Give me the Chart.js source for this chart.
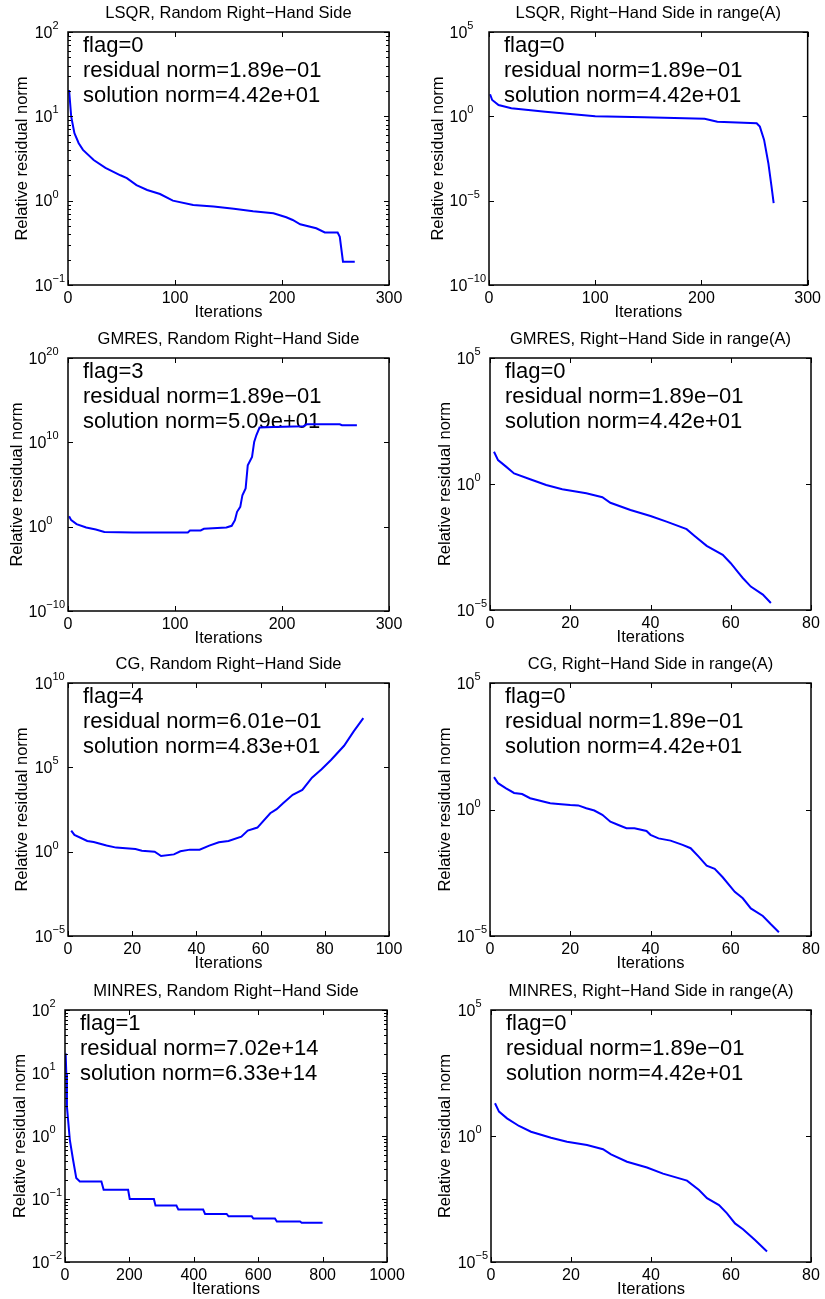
<!DOCTYPE html>
<html>
<head>
<meta charset="utf-8">
<title>Relative residual norm of iterative solvers</title>
<script src="https://cdn.jsdelivr.net/npm/chart.js@4.4.0/dist/chart.umd.min.js"></script>
<style>
  html, body { margin: 0; padding: 0; background: #fff; }
  #figure { position: relative; width: 825px; height: 1299px; overflow: hidden; }
  #figure canvas { position: absolute; }
</style>
</head>
<body>
<div id="figure"></div>
<script>
// ---- data ----

// LSQR, random right-hand side
const lsqrRandIter = [1, 3, 6, 10, 14, 24, 35, 49, 55, 64, 74, 86, 98, 117, 136, 155, 173, 192, 204, 210, 217, 232, 240, 252, 254, 257, 268];
const lsqrRandRes = [20.5, 9.9, 6.3, 4.8, 4.0, 3.03, 2.45, 2.0, 1.85, 1.53, 1.34, 1.2, 1.0, 0.89, 0.85, 0.80, 0.75, 0.71, 0.635, 0.59, 0.525, 0.47, 0.42, 0.42, 0.373, 0.189, 0.189];

// LSQR, right-hand side in range(A)
const lsqrRangeIter = [1, 3, 9, 21, 53, 100, 146, 203, 215, 252, 255, 259, 263, 266, 268];
const lsqrRangeRes = [20.4, 9.3, 4.7, 3.0, 1.9, 1.0, 0.87, 0.72, 0.48, 0.39, 0.245, 0.04, 1.66e-3, 6.8e-5, 7.1e-6];

// GMRES, random right-hand side
const gmresRandIter = [1, 3, 8, 17, 26, 34, 61, 112, 114, 124, 127, 148, 153, 156, 158, 161, 163, 166, 168, 172, 174, 176, 179, 192, 220, 223, 254, 256, 270];
const gmresRandRes = [17.4, 5.9, 2.0, 0.79, 0.47, 0.24, 0.204, 0.204, 0.355, 0.355, 0.55, 0.79, 1.26, 5.9, 57.5, 224, 5.4e3, 3.3e4, 1.9e7, 1.86e8, 1.12e10, 6.9e10, 5.6e11, 6.6e11, 7.9e11, 1.38e12, 1.38e12, 1.07e12, 1.07e12];

// GMRES, right-hand side in range(A)
const gmresRangeIter = [1, 2, 4, 6, 10, 14, 18, 24, 28, 30, 35, 40, 44, 49, 51, 54, 58, 60, 62, 63, 65, 68, 70];
const gmresRangeRes = [19.1, 8.9, 4.9, 2.63, 1.55, 0.91, 0.62, 0.43, 0.30, 0.18, 0.093, 0.054, 0.032, 0.0162, 0.0087, 0.0035, 0.00155, 7.2e-4, 2.9e-4, 1.86e-4, 8.5e-5, 4.1e-5, 1.9e-5];

// CG, random right-hand side
const cgRandIter = [1, 2, 6, 8, 12, 15, 21, 23, 27, 29, 33, 35, 38, 41, 44, 47, 50, 54, 56, 59, 63, 65, 67, 70, 73, 76, 79, 82, 86, 89, 92];
const cgRandRes = [17.8, 9.8, 4.3, 3.7, 2.3, 1.74, 1.45, 1.15, 1.0, 0.55, 0.69, 1.05, 1.32, 1.32, 2.3, 3.6, 4.3, 7.8, 17.8, 26.9, 190, 331, 741, 2340, 4570, 2.45e4, 7.8e4, 2.8e5, 1.9e6, 1.35e7, 8.3e7];

// CG, right-hand side in range(A)
const cgRangeIter = [1, 2, 4, 6, 8, 10, 15, 17, 20, 22, 24, 26, 28, 30, 32, 34, 36, 39, 40, 42, 45, 48, 50, 52, 54, 56, 58, 61, 63, 65, 68, 70, 72];
const cgRangeRes = [19.1, 11.0, 6.9, 4.5, 4.1, 2.8, 1.78, 1.66, 1.51, 1.45, 1.12, 0.91, 0.62, 0.33, 0.245, 0.182, 0.182, 0.141, 0.1, 0.072, 0.059, 0.04, 0.0295, 0.0138, 0.006, 0.0045, 0.0021, 5.6e-4, 3.1e-4, 1.23e-4, 6.2e-5, 2.9e-5, 1.41e-5];

// MINRES, random right-hand side
const minresRandIter = [2, 4, 6, 15, 25, 35, 46, 113, 120, 196, 201, 276, 281, 346, 352, 429, 435, 502, 508, 580, 585, 652, 658, 730, 735, 800];
const minresRandRes = [20.5, 10, 2.93, 0.87, 0.42, 0.215, 0.19, 0.19, 0.14, 0.14, 0.10, 0.10, 0.079, 0.079, 0.068, 0.068, 0.058, 0.058, 0.053, 0.053, 0.049, 0.049, 0.044, 0.044, 0.042, 0.042];

// MINRES, right-hand side in range(A)
const minresRangeIter = [1, 2, 4, 7, 10, 15, 19, 24, 28, 30, 34, 39, 43, 49, 52, 54, 57, 59, 61, 63, 66, 69];
const minresRangeRes = [20, 9.3, 5.0, 2.5, 1.48, 0.85, 0.59, 0.44, 0.30, 0.186, 0.095, 0.056, 0.032, 0.017, 0.0072, 0.0034, 0.0018, 8.5e-4, 3.4e-4, 2.0e-4, 7.4e-5, 2.6e-5];

// tick values
const xTicks300 = [0, 100, 200, 300];
const xTicks80 = [0, 20, 40, 60, 80];
const xTicks100 = [0, 20, 40, 60, 80, 100];
const xTicks1000 = [0, 200, 400, 600, 800, 1000];
const yTicksLsqrRand = [1e-1, 1e0, 1e1, 1e2];
const yTicksWide = [1e-10, 1e-5, 1e0, 1e5];
const yTicksGmresRand = [1e-10, 1e0, 1e10, 1e20];
const yTicksNarrow = [1e-5, 1e0, 1e5];
const yTicksCgRand = [1e-5, 1e0, 1e5, 1e10];
const yTicksMinresRand = [1e-2, 1e-1, 1e0, 1e1, 1e2];

// text
const notesLsqr = ['flag=0', 'residual norm=1.89e\u221201', 'solution norm=4.42e+01'];
const notesGmresRand = ['flag=3', 'residual norm=1.89e\u221201', 'solution norm=5.09e+01'];
const notesCgRand = ['flag=4', 'residual norm=6.01e\u221201', 'solution norm=4.83e+01'];
const notesMinresRand = ['flag=1', 'residual norm=7.02e+14', 'solution norm=6.33e+14'];

// ---- layout of the 4x2 grid (plot box in page pixels) ----
const panels = [
  { title: 'LSQR, Random Right\u2212Hand Side', iter: lsqrRandIter, res: lsqrRandRes, xTicks: xTicks300, yTicks: yTicksLsqrRand, minor: true, notes: notesLsqr,
    col: 0, box: [68, 389, 32, 285], yTitleX: 22 },
  { title: 'LSQR, Right\u2212Hand Side in range(A)', iter: lsqrRangeIter, res: lsqrRangeRes, xTicks: xTicks300, yTicks: yTicksWide, minor: false, notes: notesLsqr,
    col: 1, box: [489, 809, 32, 285], yTitleX: 26 },
  { title: 'GMRES, Random Right\u2212Hand Side', iter: gmresRandIter, res: gmresRandRes, xTicks: xTicks300, yTicks: yTicksGmresRand, minor: false, notes: notesGmresRand,
    col: 0, box: [68, 389, 358, 611], yTitleX: 17 },
  { title: 'GMRES, Right\u2212Hand Side in range(A)', iter: gmresRangeIter, res: gmresRangeRes, xTicks: xTicks80, yTicks: yTicksNarrow, minor: false, notes: notesLsqr,
    col: 1, box: [490, 811, 358, 610], yTitleX: 33 },
  { title: 'CG, Random Right\u2212Hand Side', iter: cgRandIter, res: cgRandRes, xTicks: xTicks100, yTicks: yTicksCgRand, minor: false, notes: notesCgRand,
    col: 0, box: [68, 389, 683, 936], yTitleX: 22 },
  { title: 'CG, Right\u2212Hand Side in range(A)', iter: cgRangeIter, res: cgRangeRes, xTicks: xTicks80, yTicks: yTicksNarrow, minor: false, notes: notesLsqr,
    col: 1, box: [490, 811, 683, 936], yTitleX: 33 },
  { title: 'MINRES, Random Right\u2212Hand Side', iter: minresRandIter, res: minresRandRes, xTicks: xTicks1000, yTicks: yTicksMinresRand, minor: true, notes: notesMinresRand,
    col: 0, box: [65, 387, 1010, 1262], yTitleX: 20 },
  { title: 'MINRES, Right\u2212Hand Side in range(A)', iter: minresRangeIter, res: minresRangeRes, xTicks: xTicks80, yTicks: yTicksNarrow, minor: false, notes: notesLsqr,
    col: 1, box: [491, 811, 1010, 1262], yTitleX: 33 }
];

const FONT = '"Liberation Sans", Arial, Helvetica, sans-serif';
const TITLE_H = 32;   // space above the plot box
const XAXIS_H = 40;   // space below the plot box

Chart.defaults.color = '#000';
Chart.defaults.font.family = FONT;

function expText(v) {
  const e = Math.round(Math.log10(v));
  return e < 0 ? '\u2212' + (-e) : String(e);
}

// box, inward ticks, 10^n labels and the flag text
function framePlugin(p) {
  return {
    id: 'frame',
    beforeDatasetsDraw(chart) {
      const { ctx, chartArea: a } = chart;
      ctx.save();
      ctx.fillStyle = '#000';
      ctx.font = '22px ' + FONT;
      ctx.textAlign = 'left';
      ctx.textBaseline = 'alphabetic';
      p.notes.forEach((t, i) => ctx.fillText(t, a.left + 15, a.top + 20 + 25 * i));
      ctx.restore();
    },
    afterDatasetsDraw(chart) {
      const { ctx, chartArea: a, scales: { x, y } } = chart;
      ctx.save();
      ctx.strokeStyle = '#000';
      ctx.lineWidth = 1;
      ctx.beginPath();
      p.xTicks.forEach(v => {
        const px = Math.round(x.getPixelForValue(v)) + 0.5;
        ctx.moveTo(px, a.bottom); ctx.lineTo(px, a.bottom - 5);
        ctx.moveTo(px, a.top); ctx.lineTo(px, a.top + 5);
      });
      p.yTicks.forEach(v => {
        const py = Math.round(y.getPixelForValue(v)) + 0.5;
        ctx.moveTo(a.left, py); ctx.lineTo(a.left + 5, py);
        ctx.moveTo(a.right, py); ctx.lineTo(a.right - 5, py);
      });
      if (p.minor) {
        for (let i = 0; i < p.yTicks.length - 1; i++) {
          for (let m = 2; m <= 9; m++) {
            const py = Math.round(y.getPixelForValue(p.yTicks[i] * m)) + 0.5;
            ctx.moveTo(a.left, py); ctx.lineTo(a.left + 3, py);
            ctx.moveTo(a.right, py); ctx.lineTo(a.right - 3, py);
          }
        }
      }
      ctx.stroke();
      ctx.lineWidth = 1.5;
      ctx.strokeRect(a.left, a.top, a.right - a.left, a.bottom - a.top);

      // y tick labels as 10 with a raised exponent
      ctx.fillStyle = '#000';
      ctx.textAlign = 'left';
      ctx.textBaseline = 'alphabetic';
      ctx.font = '16px ' + FONT;
      const baseW = ctx.measureText('10').width;
      ctx.font = '11px ' + FONT;
      const expW = Math.max(...p.yTicks.map(v => ctx.measureText(expText(v)).width));
      const x0 = a.left - 3 - baseW - expW;
      p.yTicks.forEach(v => {
        const py = y.getPixelForValue(v);
        ctx.font = '16px ' + FONT;
        ctx.fillText('10', x0, py + 5.5);
        ctx.font = '11px ' + FONT;
        ctx.fillText(expText(v), x0 + baseW, py - 3);
      });
      ctx.restore();
    }
  };
}

function makePanel(p) {
  const [l, r, t, b] = p.box;
  const cLeft = p.col === 0 ? 0 : 412;
  const cWidth = p.col === 0 ? 412 : 413;
  const cTop = t - TITLE_H;
  const cHeight = TITLE_H + (b - t) + XAXIS_H;

  const canvas = document.createElement('canvas');
  canvas.width = cWidth;
  canvas.height = cHeight;
  canvas.style.left = cLeft + 'px';
  canvas.style.top = cTop + 'px';
  canvas.style.width = cWidth + 'px';
  canvas.style.height = cHeight + 'px';
  document.getElementById('figure').appendChild(canvas);

  const points = p.iter.map((it, i) => ({ x: it, y: p.res[i] }));
  const yMin = p.yTicks[0];
  const yMax = p.yTicks[p.yTicks.length - 1];

  new Chart(canvas.getContext('2d'), {
    type: 'line',
    data: {
      datasets: [{
        data: points,
        borderColor: '#0000ff',
        borderWidth: 2,
        pointRadius: 0,
        tension: 0,
        fill: false
      }]
    },
    options: {
      responsive: false,
      animation: false,
      devicePixelRatio: 1,
      layout: { padding: { left: 0, top: 0, bottom: 0, right: (cLeft + cWidth) - r } },
      plugins: {
        legend: { display: false },
        tooltip: { enabled: false },
        title: {
          display: true,
          fullSize: false,
          text: p.title,
          font: { size: 16.5, weight: 'normal', lineHeight: 1.2 },
          padding: { top: 4, bottom: 8.2 }
        }
      },
      scales: {
        x: {
          type: 'linear',
          min: p.xTicks[0],
          max: p.xTicks[p.xTicks.length - 1],
          afterBuildTicks: s => { s.ticks = p.xTicks.map(v => ({ value: v })); },
          afterFit: s => { s.height = XAXIS_H; },
          ticks: { font: { size: 16 }, padding: 4, autoSkip: false, maxRotation: 0, callback: v => String(v) },
          grid: { display: false, drawTicks: false },
          border: { display: false },
          title: {
            display: true,
            text: 'Iterations',
            font: { size: 16.5, lineHeight: 1.25 },
            padding: { top: 0, bottom: 2 }
          }
        },
        y: {
          type: 'logarithmic',
          min: yMin,
          max: yMax,
          afterBuildTicks: s => { s.ticks = p.yTicks.map(v => ({ value: v })); },
          afterFit: s => { s.width = l - cLeft; },
          ticks: { display: false },
          grid: { display: false, drawTicks: false },
          border: { display: false },
          title: {
            display: true,
            text: 'Relative residual norm',
            font: { size: 16.5, lineHeight: 1.25 },
            padding: { top: p.yTitleX - 10, bottom: 0 }
          }
        }
      }
    },
    plugins: [framePlugin(p)]
  });
}

panels.forEach(makePanel);
</script>
</body>
</html>
